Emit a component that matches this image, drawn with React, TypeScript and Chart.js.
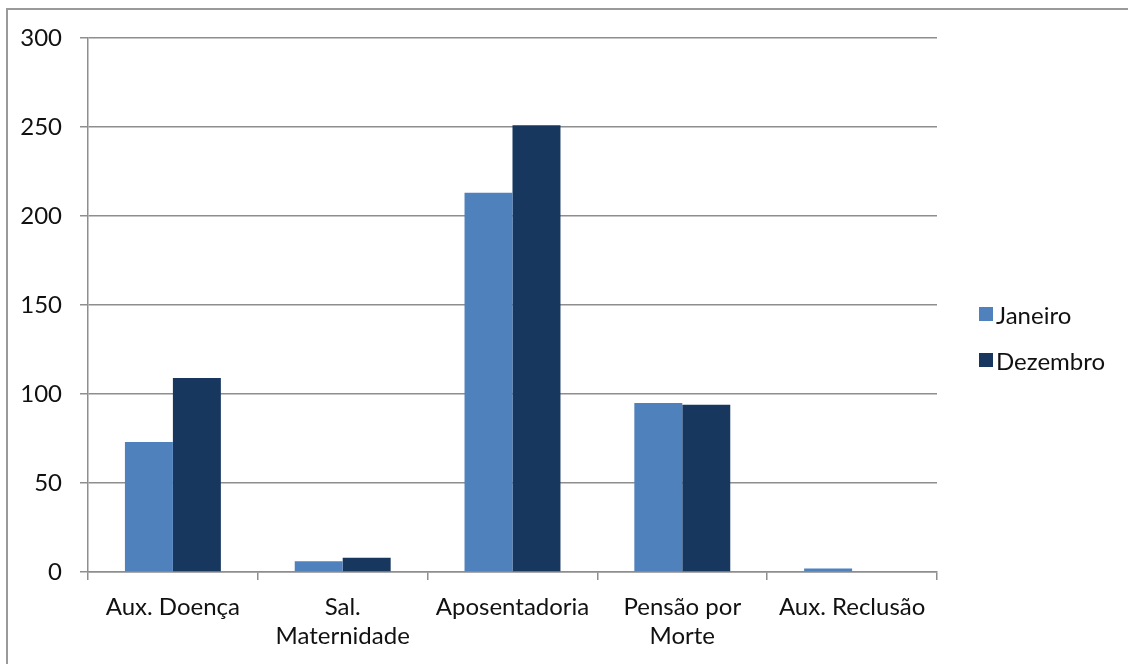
import React, { useEffect, useRef } from "react";
import { Chart, registerables } from "chart.js";

Chart.register(...registerables);

const categories: (string | string[])[] = [
  "Aux. Doença",
  ["Sal.", "Maternidade"],
  "Aposentadoria",
  ["Pensão por", "Morte"],
  "Aux. Reclusão",
];
const seriesNames = ["Janeiro", "Dezembro"];
const seriesColors = ["#4F81BD", "#17375E"];
const janeiro = [73, 6, 213, 95, 2];
const dezembro = [109, 8, 251, 94, 0];
const yTicks = [0, 50, 100, 150, 200, 250, 300];

const FONT = "Lato, 'Open Sans', sans-serif";
const GRID = "#8E8E8E";
const FS = 24;

export default function App() {
  const ref = useRef<HTMLCanvasElement | null>(null);

  useEffect(() => {
    if (!ref.current) return;
    const chart = new Chart(ref.current, {
      type: "bar",
      data: {
        labels: categories,
        datasets: [
          { label: seriesNames[0], data: janeiro, backgroundColor: seriesColors[0] },
          { label: seriesNames[1], data: dezembro, backgroundColor: seriesColors[1] },
        ],
      },
      options: {
        animation: false,
        responsive: false,
        maintainAspectRatio: false,
        layout: { padding: { left: 0, top: 38, right: 191, bottom: 0 } },
        datasets: { bar: { categoryPercentage: 0.565, barPercentage: 1 } },
        plugins: { legend: { display: false }, tooltip: { enabled: false } },
        scales: {
          x: {
            grid: {
              display: true,
              drawOnChartArea: false,
              drawTicks: true,
              tickLength: 8,
              color: GRID,
              lineWidth: 1.5,
            },
            border: { display: true, color: GRID, width: 1.5 },
            ticks: {
              color: "#111",
              padding: 13,
              maxRotation: 0,
              autoSkip: false,
              font: { family: FONT, size: FS, lineHeight: 29 / FS },
            },
            afterFit: (s: any) => {
              s.height = 92;
            },
          },
          y: {
            min: 0,
            max: 300,
            afterBuildTicks: (s: any) => {
              s.ticks = yTicks.map((v) => ({ value: v }));
            },
            grid: {
              color: GRID,
              lineWidth: 1.5,
              tickLength: 8,
              drawTicks: true,
            },
            border: { display: true, color: GRID, width: 1.5 },
            ticks: {
              color: "#111",
              padding: 18,
              font: { family: FONT, size: FS },
            },
            afterFit: (s: any) => {
              s.width = 88;
            },
          },
        },
      },
    });
    return () => chart.destroy();
  }, []);

  return (
    <div
      style={{
        position: "fixed",
        left: 0,
        top: 0,
        width: 1128,
        height: 664,
        overflow: "hidden",
        background: "#fff",
      }}
    >
      <div
        style={{
          position: "absolute",
          left: 6,
          top: 8,
          width: 1200,
          height: 700,
          border: "2px solid #9A9A9A",
          boxSizing: "border-box",
        }}
      />
      <canvas
        ref={ref}
        width={1128}
        height={664}
        style={{ position: "absolute", left: 0, top: 0, width: 1128, height: 664 }}
      />
      {seriesNames.map((name, i) => (
        <div
          key={name}
          style={{
            position: "absolute",
            left: 979,
            top: 316 + i * 46 - 17,
            height: 30,
            display: "flex",
            alignItems: "center",
            fontFamily: FONT,
            fontSize: FS,
            color: "#111",
          }}
        >
          <span
            style={{
              display: "inline-block",
              width: 14,
              height: 14,
              background: seriesColors[i],
              marginRight: 3,
            }}
          />
          <span>{name}</span>
        </div>
      ))}
    </div>
  );
}
